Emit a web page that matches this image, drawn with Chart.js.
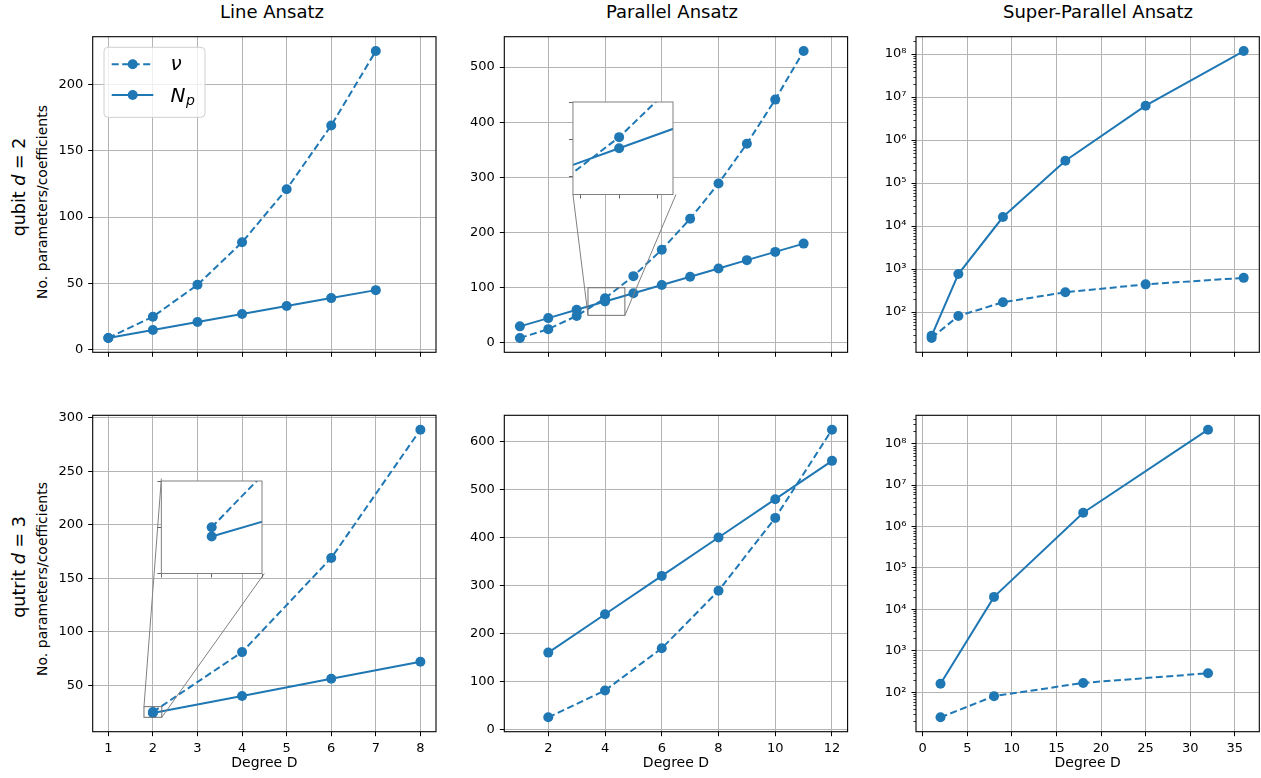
<!DOCTYPE html>
<html>
<head>
<meta charset="utf-8">
<script src="https://cdn.jsdelivr.net/npm/chart.js@4.4.1/dist/chart.umd.min.js"></script>
<style>
  body { margin: 0; background: #fff; width: 1261px; height: 778px; overflow: hidden; position: relative;
         font-family: "DejaVu Sans", sans-serif; color: #000; }
  canvas { position: absolute; }
  .label { position: absolute; white-space: nowrap; line-height: 1; }
  .title { font-size: 18px; transform: translateX(-50%); }
  .rot { transform: translate(-50%, -50%) rotate(-90deg); }
</style>
</head>
<body>
<div class="label title" style="left:272px; top:3px">Line Ansatz</div>
<div class="label title" style="left:672px; top:3px">Parallel Ansatz</div>
<div class="label title" style="left:1098px; top:3px">Super-Parallel Ansatz</div>

<div class="label rot" style="left:19.5px; top:186.7px; font-size:17.5px">qubit <i>d</i> = 2</div>
<div class="label rot" style="left:42px; top:201.7px; font-size:14px">No. parameters/coefficients</div>
<div class="label rot" style="left:19.5px; top:566.7px; font-size:17.5px">qutrit <i>d</i> = 3</div>
<div class="label rot" style="left:42px; top:579px; font-size:14px">No. parameters/coefficients</div>

<script>
// ---- data ----
// qubit (d = 2)
const lineQubitD = [1, 2, 3, 4, 5, 6, 7];
const lineQubitNu = [9, 25, 49, 81, 121, 169, 225];
const lineQubitNp = [9, 15, 21, 27, 33, 39, 45];

const parQubitD = [1, 2, 3, 4, 5, 6, 7, 8, 9, 10, 11];
const parQubitNu = [9, 25, 49, 81, 121, 169, 225, 289, 361, 441, 529];
const parQubitNp = [30, 45, 60, 75, 90, 105, 120, 135, 150, 165, 180];

const spQubitD = [1, 4, 9, 16, 25, 36];
const spQubitNu = [25, 81, 169, 289, 441, 625];
const spQubitNp = [28, 765, 16200, 330000, 6300000, 117500000];

// qutrit (d = 3)
const lineQutritD = [2, 4, 6, 8];
const lineQutritNu = [25, 81, 169, 289];
const lineQutritNp = [24, 40, 56, 72];

const parQutritD = [2, 4, 6, 8, 10, 12];
const parQutritNu = [25, 81, 169, 289, 441, 625];
const parQutritNp = [160, 240, 320, 400, 480, 560];

const spQutritD = [2, 8, 18, 32];
const spQutritNu = [25, 81, 169, 289];
const spQutritNp = [162, 20100, 2150000, 217000000];

// tick labels
const lineTicksX = [1, 2, 3, 4, 5, 6, 7, 8];
const parTicksX = [2, 4, 6, 8, 10, 12];
const spTicksX = [0, 5, 10, 15, 20, 25, 30, 35];
const lineQubitTicksY = [0, 50, 100, 150, 200];
const parQubitTicksY = [0, 100, 200, 300, 400, 500];
const lineQutritTicksY = [50, 100, 150, 200, 250, 300];
const parQutritTicksY = [0, 100, 200, 300, 400, 500, 600];
const decadeTicksY = [1e2, 1e3, 1e4, 1e5, 1e6, 1e7, 1e8];

// zoomed windows of the two insets
const parQubitZoomX = [3.4, 4.7];
const parQubitZoomY = [50, 100];
const parQubitInsetTicksX = [3.5, 4, 4.5];
const parQubitInsetTicksY = [60, 80, 100];
const lineQutritZoomX = [1.8, 2.2];
const lineQutritZoomY = [20, 30];
const lineQutritInsetTicksX = [1.8, 2.0, 2.2];
const lineQutritInsetTicksY = [20, 25, 30];

// ---- layout (page pixels) ----
const colLeft = [92.7, 504.3, 916];
const axW = 343.3;
const rowTop = [36.7, 415.3];
const axH = [315.6, 316.4];
const PAD_L = 62, PAD_T = 16, PAD_R = 12, PAD_B = 45;

const BLUE = '#1f77b4';
const GRID = '#b4b4b4';

Chart.defaults.font.family = "'DejaVu Sans', sans-serif";
Chart.defaults.color = '#000';

const SUP = { '0': '⁰', '1': '¹', '2': '²', '3': '³', '4': '⁴', '5': '⁵', '6': '⁶', '7': '⁷', '8': '⁸', '9': '⁹' };
const sup = n => String(n).split('').map(c => SUP[c]).join('');

const pts = (xs, ys) => xs.map((x, i) => ({ x, y: ys[i] }));

// matplotlib-like 5% autoscale margins
function linMargin(lo, hi) {
  const m = (hi - lo) * 0.05;
  return [lo - m, hi + m];
}
function logMargin(lo, hi) {
  const a = Math.log10(lo), b = Math.log10(hi), m = (b - a) * 0.05;
  return [Math.pow(10, a - m), Math.pow(10, b + m)];
}

function series(xs, nu, np, clipped) {
  const style = {
    borderColor: BLUE, backgroundColor: BLUE, borderWidth: 2,
    pointRadius: 5, pointHoverRadius: 5, pointBorderWidth: 0, tension: 0, fill: false
  };
  if (clipped) style.clip = 0;
  return [
    { label: 'ν', data: pts(xs, nu), borderDash: [7, 3.5], order: 1, ...style },
    { label: 'Np', data: pts(xs, np), order: 0, ...style }
  ];
}

const fixedTicks = values => scale => { scale.ticks = values.map(v => ({ value: v })); };

// full box around the plot area
function frame(color, width) {
  return {
    id: 'frame',
    afterDraw(chart) {
      const { ctx, chartArea: a } = chart;
      ctx.save();
      ctx.strokeStyle = color;
      ctx.lineWidth = width;
      ctx.strokeRect(a.left, a.top, a.right - a.left, a.bottom - a.top);
      ctx.restore();
    }
  };
}

const whiteBg = {
  id: 'whiteBg',
  beforeDraw(chart) {
    const { ctx, chartArea: a } = chart;
    ctx.save();
    ctx.fillStyle = '#fff';
    ctx.fillRect(a.left, a.top, a.right - a.left, a.bottom - a.top);
    ctx.restore();
  }
};

// small unlabeled ticks between decades on log axes
const minorLogTicks = {
  id: 'minorLogTicks',
  afterDraw(chart) {
    const y = chart.scales.y;
    if (y.type !== 'logarithmic') return;
    const { ctx, chartArea: a } = chart;
    ctx.save();
    ctx.strokeStyle = '#000';
    ctx.lineWidth = 0.8;
    ctx.beginPath();
    for (let e = Math.floor(Math.log10(y.min)); e <= Math.ceil(Math.log10(y.max)); e++) {
      for (let k = 2; k <= 9; k++) {
        const v = k * Math.pow(10, e);
        if (v < y.min || v > y.max) continue;
        const p = Math.round(y.getPixelForValue(v)) + 0.5;
        ctx.moveTo(a.left - 2.6, p);
        ctx.lineTo(a.left, p);
      }
    }
    ctx.stroke();
    ctx.restore();
  }
};

// legend of the first panel
const legendBox = {
  id: 'legendBox',
  afterDraw(chart) {
    const { ctx, chartArea: a } = chart;
    const x = a.left + 11.3, y = a.top + 10.6, w = 101, h = 70, r = 4;
    ctx.save();
    ctx.beginPath();
    ctx.roundRect(x, y, w, h, r);
    ctx.fillStyle = 'rgba(255,255,255,0.8)';
    ctx.fill();
    ctx.strokeStyle = '#d0d0d0';
    ctx.lineWidth = 1;
    ctx.stroke();

    const rows = [
      { cy: y + 17, dash: [7, 3.5] },
      { cy: y + 47.7, dash: [] }
    ];
    rows.forEach(row => {
      ctx.strokeStyle = BLUE;
      ctx.lineWidth = 2;
      ctx.setLineDash(row.dash);
      ctx.beginPath();
      ctx.moveTo(x + 7.7, row.cy);
      ctx.lineTo(x + 49.3, row.cy);
      ctx.stroke();
      ctx.setLineDash([]);
      ctx.fillStyle = BLUE;
      ctx.beginPath();
      ctx.arc(x + 28.7, row.cy, 5, 0, Math.PI * 2);
      ctx.fill();
    });

    ctx.fillStyle = '#000';
    ctx.textBaseline = 'alphabetic';
    ctx.textAlign = 'left';
    ctx.font = "italic 20px 'DejaVu Sans'";
    ctx.fillText('ν', x + 66.5, rows[0].cy + 6);
    ctx.fillText('N', x + 66.5, rows[1].cy + 7.3);
    const nw = ctx.measureText('N').width;
    ctx.font = "italic 14px 'DejaVu Sans'";
    ctx.fillText('p', x + 66.5 + nw + 0.5, rows[1].cy + 9.5);
    ctx.restore();
  }
};

// zoom rectangle plus the two connector lines towards the inset
function zoomMarks(z) {
  return {
    id: 'zoomMarks',
    afterDatasetsDraw(chart) {
      const { ctx, chartArea: a, scales: { x, y } } = chart;
      const w = a.right - a.left, h = a.bottom - a.top;
      const ix0 = a.left + z.frac[0] * w, ix1 = ix0 + z.frac[2] * w;
      const iy1 = a.bottom - z.frac[1] * h, iy0 = iy1 - z.frac[3] * h;
      const bx0 = x.getPixelForValue(z.x[0]), bx1 = x.getPixelForValue(z.x[1]);
      const by0 = y.getPixelForValue(z.y[1]), by1 = y.getPixelForValue(z.y[0]);
      const inset = { tl: [ix0, iy0], tr: [ix1, iy0], bl: [ix0, iy1], br: [ix1, iy1] };
      const box = { tl: [bx0, by0], tr: [bx1, by0], bl: [bx0, by1], br: [bx1, by1] };
      ctx.save();
      ctx.strokeStyle = '#707070';
      ctx.lineWidth = 1;
      ctx.strokeRect(bx0, by0, bx1 - bx0, by1 - by0);
      ctx.strokeStyle = '#808080';
      ctx.beginPath();
      z.links.forEach(c => {
        ctx.moveTo(inset[c][0], inset[c][1]);
        ctx.lineTo(box[c][0], box[c][1]);
      });
      ctx.stroke();
      ctx.restore();
    }
  };
}

function addCanvas(l, t, w, h) {
  const c = document.createElement('canvas');
  c.width = w;
  c.height = h;
  c.style.left = l + 'px';
  c.style.top = t + 'px';
  c.style.width = w + 'px';
  c.style.height = h + 'px';
  document.body.appendChild(c);
  return c;
}

const panels = [
  { col: 0, row: 0, xs: lineQubitD, nu: lineQubitNu, np: lineQubitNp, yType: 'linear', yTicks: lineQubitTicksY, xTicks: lineTicksX, legend: true },
  { col: 1, row: 0, xs: parQubitD, nu: parQubitNu, np: parQubitNp, yType: 'linear', yTicks: parQubitTicksY, xTicks: parTicksX,
    inset: { x: parQubitZoomX, y: parQubitZoomY, ticksX: parQubitInsetTicksX, ticksY: parQubitInsetTicksY, frac: [0.2, 0.5, 0.3, 0.3], links: ['bl', 'br'] } },
  { col: 2, row: 0, xs: spQubitD, nu: spQubitNu, np: spQubitNp, yType: 'logarithmic', yTicks: decadeTicksY, xTicks: spTicksX },
  { col: 0, row: 1, xs: lineQutritD, nu: lineQutritNu, np: lineQutritNp, yType: 'linear', yTicks: lineQutritTicksY, xTicks: lineTicksX,
    inset: { x: lineQutritZoomX, y: lineQutritZoomY, ticksX: lineQutritInsetTicksX, ticksY: lineQutritInsetTicksY, frac: [0.2, 0.5, 0.3, 0.3], links: ['tl', 'br'] } },
  { col: 1, row: 1, xs: parQutritD, nu: parQutritNu, np: parQutritNp, yType: 'linear', yTicks: parQutritTicksY, xTicks: parTicksX },
  { col: 2, row: 1, xs: spQutritD, nu: spQutritNu, np: spQutritNp, yType: 'logarithmic', yTicks: decadeTicksY, xTicks: spTicksX }
];

// shared x limits per column
function columnXLimits(col) {
  const xs = panels.filter(p => p.col === col).flatMap(p => p.xs);
  return linMargin(Math.min(...xs), Math.max(...xs));
}

function yLimits(p) {
  const vals = [...p.nu, ...p.np];
  if (p.inset) vals.push(...p.inset.y);
  const lo = Math.min(...vals), hi = Math.max(...vals);
  return p.yType === 'logarithmic' ? logMargin(lo, hi) : linMargin(lo, hi);
}

function renderPanel(p) {
  const ax = { left: colLeft[p.col], top: rowTop[p.row], w: axW, h: axH[p.row] };
  const cl = Math.floor(ax.left - PAD_L), ct = Math.floor(ax.top - PAD_T);
  const cr = Math.ceil(ax.left + ax.w + PAD_R), cb = Math.ceil(ax.top + ax.h + PAD_B);
  const canvas = addCanvas(cl, ct, cr - cl, cb - ct);
  const xLim = columnXLimits(p.col);
  const yLim = yLimits(p);
  const bottomRow = p.row === 1;

  const plugins = [minorLogTicks, frame('#000', 1.1)];
  if (p.inset) plugins.push(zoomMarks(p.inset));
  if (p.legend) plugins.push(legendBox);

  new Chart(canvas, {
    type: 'line',
    data: { datasets: series(p.xs, p.nu, p.np, false) },
    options: {
      responsive: false,
      animation: false,
      events: [],
      devicePixelRatio: 1,
      layout: {
        padding: {
          left: ax.left - PAD_L - cl,
          top: ax.top - ct,
          right: cr - ax.left - ax.w,
          bottom: cb - ax.top - ax.h - PAD_B
        }
      },
      plugins: { legend: { display: false }, tooltip: { enabled: false } },
      scales: {
        x: {
          type: 'linear',
          min: xLim[0], max: xLim[1],
          afterBuildTicks: fixedTicks(p.xTicks),
          afterFit: s => { s.height = PAD_B; },
          grid: { color: GRID, lineWidth: 1, tickLength: 4.5, tickColor: '#000', tickWidth: 1 },
          border: { display: false },
          ticks: { display: bottomRow, padding: 5, color: '#000', font: { size: 13 }, maxRotation: 0, callback: v => String(v) },
          title: { display: bottomRow, text: 'Degree D', color: '#000', font: { size: 14 }, padding: { top: 0, bottom: 4.8 } }
        },
        y: {
          type: p.yType,
          min: yLim[0], max: yLim[1],
          afterBuildTicks: fixedTicks(p.yTicks),
          afterFit: s => { s.width = PAD_L; },
          grid: { color: GRID, lineWidth: 1, tickLength: 4.5, tickColor: '#000', tickWidth: 1 },
          border: { display: false },
          ticks: {
            padding: 5, color: '#000', font: { size: 13 },
            callback: p.yType === 'logarithmic' ? v => '10' + sup(Math.round(Math.log10(v))) : v => String(v)
          }
        }
      }
    },
    plugins
  });

  if (p.inset) renderInset(p, ax);
}

function renderInset(p, ax) {
  const z = p.inset;
  const ix0 = ax.left + z.frac[0] * ax.w, iw = z.frac[2] * ax.w, ih = z.frac[3] * ax.h;
  const iy1 = ax.top + ax.h - z.frac[1] * ax.h, iy0 = iy1 - ih;
  const M = 8, m = 2;
  const cl = Math.floor(ix0 - M), ct = Math.floor(iy0 - m);
  const cr = Math.ceil(ix0 + iw + m), cb = Math.ceil(iy1 + M);
  const canvas = addCanvas(cl, ct, cr - cl, cb - ct);
  const tickGrid = { drawOnChartArea: false, tickLength: 4, tickColor: '#666', tickWidth: 1 };

  new Chart(canvas, {
    type: 'line',
    data: { datasets: series(p.xs, p.nu, p.np, true) },
    options: {
      responsive: false,
      animation: false,
      events: [],
      devicePixelRatio: 1,
      layout: { padding: { left: ix0 - M - cl, top: iy0 - ct, right: cr - ix0 - iw, bottom: cb - iy1 - M } },
      plugins: { legend: { display: false }, tooltip: { enabled: false } },
      scales: {
        x: {
          type: 'linear', min: z.x[0], max: z.x[1],
          afterBuildTicks: fixedTicks(z.ticksX),
          afterFit: s => { s.height = M; },
          grid: tickGrid, border: { display: false }, ticks: { display: false }
        },
        y: {
          type: 'linear', min: z.y[0], max: z.y[1],
          afterBuildTicks: fixedTicks(z.ticksY),
          afterFit: s => { s.width = M; },
          grid: tickGrid, border: { display: false }, ticks: { display: false }
        }
      }
    },
    plugins: [whiteBg, frame('#808080', 1)]
  });
}

panels.forEach(renderPanel);
</script>
</body>
</html>
